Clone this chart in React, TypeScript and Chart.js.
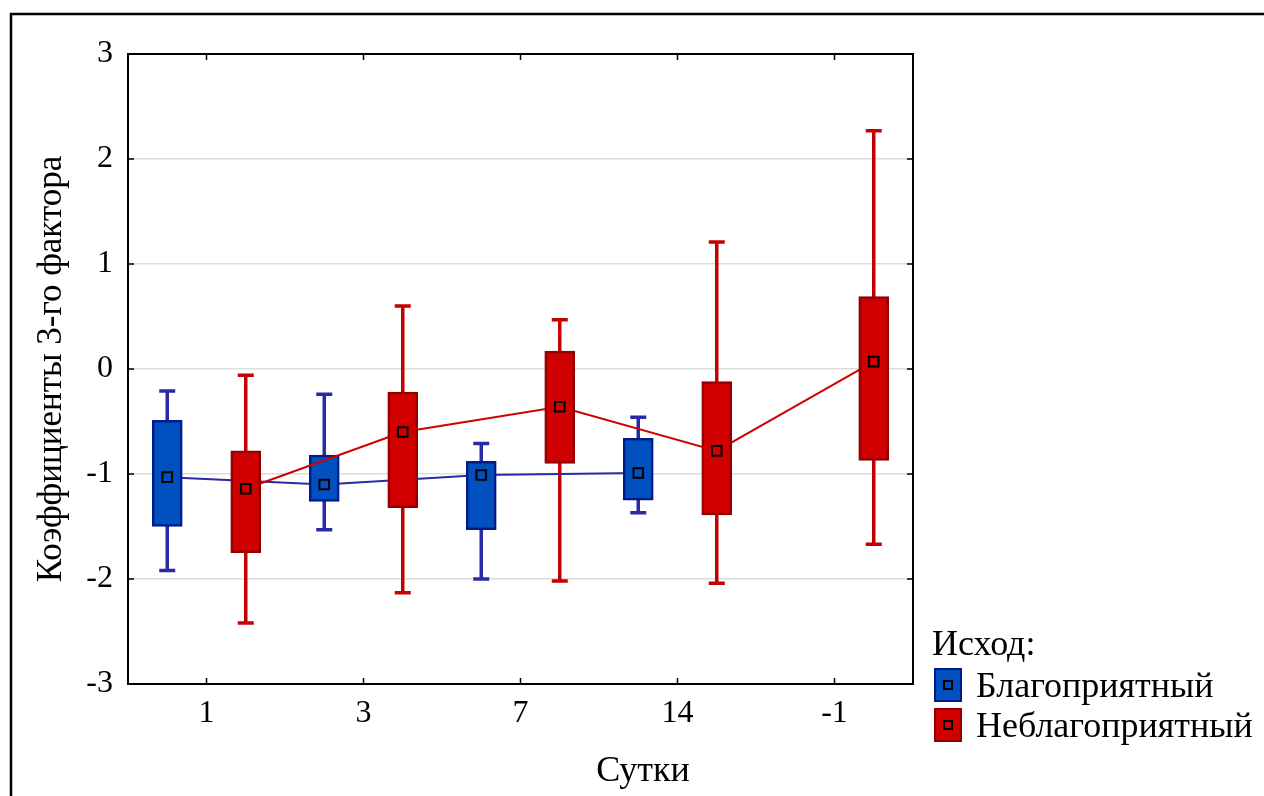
import React, { useEffect, useRef } from 'react';
import { Chart, registerables } from 'chart.js';

Chart.register(...registerables);

// ---------- data ----------
const categories = ['1', '3', '7', '14', '-1'];
const seriesNames = ['Благоприятный', 'Неблагоприятный'];
const legendTitle = 'Исход:';
const xTitle = 'Сутки';
const yTitle = 'Коэффициенты 3-го фактора';
const yMin = -3;
const yMax = 3;
const yStep = 1;

const blueWhiskerHigh = [-0.21, -0.24, -0.71, -0.46, null];
const blueBoxHigh = [-0.49, -0.82, -0.88, -0.66, null];
const blueMean = [-1.03, -1.1, -1.01, -0.99, null];
const blueBoxLow = [-1.5, -1.26, -1.53, -1.25, null];
const blueWhiskerLow = [-1.92, -1.53, -2.0, -1.37, null];

const redWhiskerHigh = [-0.06, 0.6, 0.47, 1.21, 2.27];
const redBoxHigh = [-0.78, -0.22, 0.17, -0.12, 0.69];
const redMean = [-1.14, -0.6, -0.36, -0.78, 0.07];
const redBoxLow = [-1.75, -1.32, -0.9, -1.39, -0.87];
const redWhiskerLow = [-2.42, -2.13, -2.02, -2.04, -1.67];

// ---------- styles ----------
const FONT = "'Liberation Serif', 'Times New Roman', serif";
const BLUE = { fill: '#0050C0', border: '#001C8A', whisker: '#2A2AA6', line: '#2A2AA6' };
const RED = { fill: '#D00000', border: '#940000', whisker: '#C40000', line: '#D00000' };
const SHIFT = 0.25;

type Series = {
  name: string;
  mean: (number | null)[];
  boxLow: (number | null)[];
  boxHigh: (number | null)[];
  whiskerLow: (number | null)[];
  whiskerHigh: (number | null)[];
  colors: typeof BLUE;
  shift: number;
};

const series: Series[] = [
  {
    name: seriesNames[0],
    mean: blueMean,
    boxLow: blueBoxLow,
    boxHigh: blueBoxHigh,
    whiskerLow: blueWhiskerLow,
    whiskerHigh: blueWhiskerHigh,
    colors: BLUE,
    shift: -SHIFT,
  },
  {
    name: seriesNames[1],
    mean: redMean,
    boxLow: redBoxLow,
    boxHigh: redBoxHigh,
    whiskerLow: redWhiskerLow,
    whiskerHigh: redWhiskerHigh,
    colors: RED,
    shift: SHIFT,
  },
];

const boxData = (s: Series) =>
  categories
    .map((_, i) => (s.boxLow[i] == null ? null : { x: i + s.shift, y: [s.boxLow[i], s.boxHigh[i]] }))
    .filter(Boolean);
const meanData = (s: Series) =>
  categories
    .map((_, i) => (s.mean[i] == null ? null : { x: i + s.shift, y: s.mean[i] }))
    .filter(Boolean);

const whiskerPlugin = {
  id: 'whiskers',
  beforeDatasetsDraw(chart: any) {
    const { ctx } = chart;
    const x = chart.scales.x;
    const y = chart.scales.y;
    ctx.save();
    ctx.lineWidth = 3.5;
    ctx.lineCap = 'butt';
    series.forEach((s) => {
      ctx.strokeStyle = s.colors.whisker;
      categories.forEach((_, i) => {
        const hi = s.whiskerHigh[i];
        const lo = s.whiskerLow[i];
        if (hi == null || lo == null) return;
        const px = x.getPixelForValue(i + s.shift);
        const top = y.getPixelForValue(hi);
        const bot = y.getPixelForValue(lo);
        ctx.beginPath();
        ctx.moveTo(px, top);
        ctx.lineTo(px, bot);
        ctx.moveTo(px - 8, top);
        ctx.lineTo(px + 8, top);
        ctx.moveTo(px - 8, bot);
        ctx.lineTo(px + 8, bot);
        ctx.stroke();
      });
    });
    ctx.restore();
  },
};

const framePlugin = {
  id: 'frame',
  beforeDraw(chart: any) {
    const { ctx, width, height } = chart;
    ctx.save();
    ctx.strokeStyle = '#000';
    ctx.lineWidth = 2.5;
    ctx.beginPath();
    ctx.moveTo(11, height);
    ctx.lineTo(11, 14);
    ctx.lineTo(width, 14);
    ctx.stroke();
    ctx.restore();
  },
  afterDatasetsDraw(chart: any) {
    const { ctx, chartArea: a } = chart;
    const x = chart.scales.x;
    const y = chart.scales.y;
    ctx.save();
    ctx.strokeStyle = '#000';
    ctx.lineWidth = 2;
    ctx.beginPath();
    ctx.moveTo(a.left, a.top);
    ctx.lineTo(a.right, a.top);
    ctx.lineTo(a.right, a.bottom);
    ctx.stroke();
    ctx.lineWidth = 1.5;
    ctx.beginPath();
    y.ticks.forEach((t: any) => {
      const py = y.getPixelForValue(t.value);
      ctx.moveTo(a.left, py);
      ctx.lineTo(a.left + 6, py);
      ctx.moveTo(a.right, py);
      ctx.lineTo(a.right - 6, py);
    });
    x.ticks.forEach((t: any) => {
      const px = x.getPixelForValue(t.value);
      ctx.moveTo(px, a.bottom);
      ctx.lineTo(px, a.bottom - 6);
      ctx.moveTo(px, a.top);
      ctx.lineTo(px, a.top + 6);
    });
    ctx.stroke();
    ctx.restore();
  },
};

function Legend() {
  return (
    <>
      <div
        style={{
          position: 'absolute',
          left: 932,
          top: 625,
          font: `36px ${FONT}`,
          lineHeight: '36px',
          color: '#000',
          whiteSpace: 'nowrap',
        }}
      >
        {legendTitle}
      </div>
      {series.map((s, k) => (
        <div
          key={s.name}
          style={{
            position: 'absolute',
            left: 934,
            top: 667 + k * 40,
            height: 36,
            display: 'flex',
            alignItems: 'center',
            whiteSpace: 'nowrap',
          }}
        >
          <div
            style={{
              width: 28,
              height: 34,
              boxSizing: 'border-box',
              background: s.colors.fill,
              border: `2px solid ${s.colors.border}`,
              display: 'flex',
              alignItems: 'center',
              justifyContent: 'center',
            }}
          >
            <div style={{ width: 10, height: 10, boxSizing: 'border-box', border: '2px solid #000' }} />
          </div>
          <span style={{ marginLeft: 14, font: `36px ${FONT}`, lineHeight: '36px', color: '#000' }}>
            {s.name}
          </span>
        </div>
      ))}
    </>
  );
}

export default function App() {
  const ref = useRef<HTMLCanvasElement>(null);
  useEffect(() => {
    if (!ref.current) return;
    const [blue, red] = series;
    const chart = new Chart(ref.current, {
      type: 'bar',
      data: {
        datasets: [
          {
            type: 'line',
            label: blue.name + ' mean',
            data: meanData(blue) as any,
            borderColor: blue.colors.line,
            borderWidth: 2,
            pointRadius: 0,
            fill: false,
            order: 6,
          },
          {
            type: 'bar',
            label: blue.name,
            data: boxData(blue) as any,
            backgroundColor: blue.colors.fill,
            borderColor: blue.colors.border,
            borderWidth: 2.5,
            borderSkipped: false,
            barThickness: 30,
            grouped: false,
            order: 5,
          },
          {
            type: 'line',
            label: red.name + ' mean',
            data: meanData(red) as any,
            borderColor: red.colors.line,
            borderWidth: 2,
            pointRadius: 0,
            fill: false,
            order: 4,
          },
          {
            type: 'bar',
            label: red.name,
            data: boxData(red) as any,
            backgroundColor: red.colors.fill,
            borderColor: red.colors.border,
            borderWidth: 2.5,
            borderSkipped: false,
            barThickness: 30,
            grouped: false,
            order: 3,
          },
          {
            type: 'line',
            label: blue.name + ' markers',
            data: meanData(blue) as any,
            showLine: false,
            pointStyle: 'rect',
            pointRadius: 6.8,
            pointBorderColor: '#000',
            pointBorderWidth: 2,
            pointBackgroundColor: 'rgba(0,0,0,0)',
            order: 2,
          },
          {
            type: 'line',
            label: red.name + ' markers',
            data: meanData(red) as any,
            showLine: false,
            pointStyle: 'rect',
            pointRadius: 6.8,
            pointBorderColor: '#000',
            pointBorderWidth: 2,
            pointBackgroundColor: 'rgba(0,0,0,0)',
            order: 1,
          },
        ],
      },
      options: {
        responsive: false,
        animation: false,
        devicePixelRatio: 1,
        events: [],
        layout: { padding: { left: 22, top: 54, right: 0, bottom: 2.4 } },
        scales: {
          x: {
            type: 'linear',
            min: -0.5,
            max: categories.length - 0.5,
            offset: false,
            grid: { display: false, drawTicks: false },
            border: { display: true, color: '#000', width: 2 },
            afterBuildTicks: (s: any) => {
              s.ticks = categories.map((_, i) => ({ value: i }));
            },
            ticks: {
              autoSkip: false,
              maxRotation: 0,
              padding: 10,
              color: '#000',
              font: { family: FONT, size: 32 },
              callback: (v: any) => categories[Math.round(Number(v))] ?? '',
            },
            afterFit: (s: any) => {
              s.height = 47;
            },
          },
          y: {
            type: 'linear',
            min: yMin,
            max: yMax,
            ticks: {
              stepSize: yStep,
              padding: 15,
              color: '#000',
              font: { family: FONT, size: 32 },
            },
            grid: { color: '#dcdcdc', lineWidth: 1.5, drawTicks: false },
            border: { display: true, color: '#000', width: 2 },
            title: {
              display: true,
              text: yTitle,
              color: '#000',
              font: { family: FONT, size: 35 },
              padding: { top: 9, bottom: 0 },
            },
            afterFit: (s: any) => {
              s.width = 106;
            },
          },
          y2: {
            type: 'linear',
            position: 'right',
            display: true,
            grid: { display: false, drawTicks: false },
            border: { display: false },
            ticks: { display: false },
            afterFit: (s: any) => {
              s.width = 351;
            },
          },
        },
        plugins: {
          legend: { display: false },
          tooltip: { enabled: false },
          subtitle: {
            display: true,
            text: xTitle,
            position: 'bottom',
            fullSize: true,
            color: '#000',
            font: { family: FONT, size: 36, weight: 'normal' },
            padding: { top: 19.4, bottom: 0 },
          },
        },
      } as any,
      plugins: [whiskerPlugin, framePlugin],
    });
    return () => chart.destroy();
  }, []);

  return (
    <div
      style={{
        position: 'fixed',
        left: 0,
        top: 0,
        width: 1264,
        height: 796,
        background: '#fff',
        overflow: 'hidden',
      }}
    >
      <canvas
        ref={ref}
        width={1264}
        height={796}
        style={{ position: 'absolute', left: 0, top: 0, width: 1264, height: 796 }}
      />
      <Legend />
    </div>
  );
}
